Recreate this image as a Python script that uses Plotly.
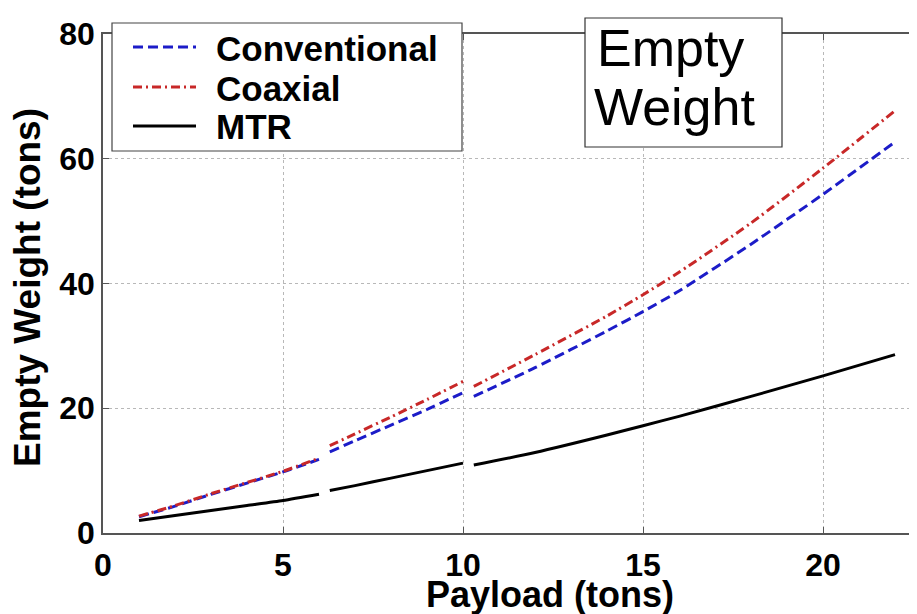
import plotly.graph_objects as go

# ---- data ----
x_seg1 = [1, 2, 3, 4, 5, 6]
x_seg2 = [6.3, 7, 8, 9, 10]
x_seg3 = [10.3, 12, 14, 15, 16, 18, 20, 22]

conv_seg1 = [2.6, 4.3, 6.2, 8.0, 9.8, 11.8]
conv_seg2 = [13.0, 14.8, 17.3, 19.8, 22.5]
conv_seg3 = [21.9, 26.5, 32.4, 35.5, 38.8, 46.3, 54.3, 62.7]

coax_seg1 = [2.7, 4.4, 6.3, 8.1, 9.9, 12.0]
coax_seg2 = [14.0, 15.9, 18.6, 21.4, 24.3]
coax_seg3 = [23.5, 28.6, 34.8, 38.2, 41.8, 49.7, 58.5, 67.7]

mtr_seg1 = [2.0, 2.8, 3.6, 4.4, 5.2, 6.2]
mtr_seg2 = [6.8, 7.6, 8.8, 10.0, 11.2]
mtr_seg3 = [10.9, 12.9, 15.7, 17.2, 18.7, 21.9, 25.2, 28.6]

series_names = ["Conventional", "Coaxial", "MTR"]
x_ticks = [0, 5, 10, 15, 20]
y_ticks = [0, 20, 40, 60, 80]
x_title = "Payload (tons)"
y_title = "Empty Weight (tons)"
box_lines = ["Empty", "Weight"]


def join(*segs):
    out = []
    for i, s in enumerate(segs):
        if i:
            out.append(None)
        out.extend(s)
    return out


xs = join(x_seg1, x_seg2, x_seg3)
styles = {
    "Conventional": dict(color="#1c1cc8", dash="10px,5px"),
    "Coaxial": dict(color="#c82828", dash="9px,4px,2px,4px"),
    "MTR": dict(color="#000000", dash="solid"),
}
ys = {
    "Conventional": join(conv_seg1, conv_seg2, conv_seg3),
    "Coaxial": join(coax_seg1, coax_seg2, coax_seg3),
    "MTR": join(mtr_seg1, mtr_seg2, mtr_seg3),
}

FONT = "Liberation Sans, Arial, Helvetica, sans-serif"
OFF = 8                   # page body margin
W, H = 917, 614 - OFF     # figure size (right part runs past the window edge)
# plot area in page pixels: left 103, top 34, bottom 533
ML, MT = 103 - OFF, 34 - OFF
MB = H - (533 - OFF)
MR = 0
PW, PH = W - ML - MR, H - MT - MB
X_PER = 36.0
x_max = PW / X_PER


def px(xp):  # page pixel -> paper x
    return (xp - OFF - ML) / PW


def py(yp):  # page pixel -> paper y
    return (H - MB - (yp - OFF)) / PH


fig = go.Figure()
for name in series_names:
    st = styles[name]
    fig.add_trace(go.Scatter(
        x=xs, y=ys[name], mode="lines", name=name, showlegend=False,
        connectgaps=False,
        line=dict(color=st["color"], dash=st["dash"], width=3,
                  shape="spline", smoothing=0.6),
    ))

shapes = []
annotations = []

# legend box (drawn manually to match the original layout)
shapes.append(dict(type="rect", xref="paper", yref="paper",
                   x0=px(112), x1=px(462), y0=py(151), y1=py(23),
                   line=dict(color="#444444", width=1.2), fillcolor="white",
                   layer="above"))
leg_y = [47, 87, 126]
for name, yy in zip(series_names, leg_y):
    st = styles[name]
    shapes.append(dict(type="line", xref="paper", yref="paper",
                       x0=px(133), x1=px(196), y0=py(yy), y1=py(yy),
                       line=dict(color=st["color"], dash=st["dash"], width=3),
                       layer="above"))
    annotations.append(dict(xref="paper", yref="paper", x=px(214), y=py(yy + 1),
                            xanchor="left", yanchor="middle", showarrow=False,
                            text=name,
                            font=dict(family=FONT, size=35, color="black",
                                      weight="bold")))

# "Empty Weight" box
shapes.append(dict(type="rect", xref="paper", yref="paper",
                   x0=px(585), x1=px(782), y0=py(147), y1=py(18),
                   line=dict(color="#333333", width=1.2), fillcolor="white",
                   layer="above"))
for txt, yy, xx in zip(box_lines, [48, 107], [595, 592]):
    annotations.append(dict(xref="paper", yref="paper", x=px(xx), y=py(yy),
                            xanchor="left", yanchor="middle", showarrow=False,
                            text=txt,
                            font=dict(family=FONT, size=52, color="black")))

# axis titles
annotations.append(dict(xref="paper", yref="paper", x=px(550), y=py(594),
                        xanchor="center", yanchor="middle", showarrow=False,
                        text=x_title,
                        font=dict(family=FONT, size=36, color="black",
                                  weight="bold")))
annotations.append(dict(xref="paper", yref="paper", x=px(27), y=py(288),
                        xanchor="center", yanchor="middle", showarrow=False,
                        textangle=-90, text=y_title,
                        font=dict(family=FONT, size=37, color="black",
                                  weight="bold")))

axis_common = dict(
    showline=True, linecolor="#555555", linewidth=1.5,
    ticks="inside", ticklen=6, tickcolor="#555555", tickwidth=1,
    showgrid=True, gridcolor="#b8b8b8", griddash="dot", gridwidth=1,
    zeroline=False,
    tickfont=dict(family=FONT, size=32, color="black", weight="bold"),
)

fig.update_layout(
    width=W, height=H,
    margin=dict(l=ML, r=MR, t=MT, b=MB, autoexpand=False),
    paper_bgcolor="white", plot_bgcolor="white",
    xaxis=dict(range=[0, x_max], tickvals=x_ticks, mirror="ticks",
               ticklabelstandoff=3, **axis_common),
    yaxis=dict(range=[0, 80], tickvals=y_ticks, mirror=False,
               ticklabelstandoff=0, **axis_common),
    shapes=shapes, annotations=annotations,
    showlegend=False,
)

fig.write_html("out.html")
